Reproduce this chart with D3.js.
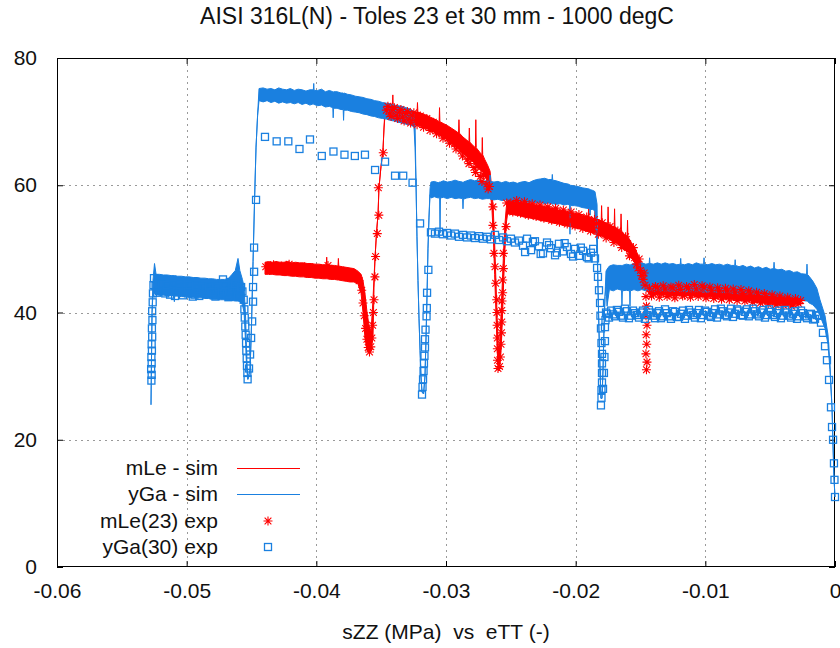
<!DOCTYPE html>
<html><head><meta charset="utf-8">
<script src="https://cdn.jsdelivr.net/npm/d3@7"></script>
<style>
body{margin:0;background:#fff;}
svg text{font-family:"Liberation Sans",Arial,sans-serif;fill:#111;white-space:pre;}
</style></head>
<body><svg id="c" width="840" height="648"></svg>
<script>
const titleText = "AISI 316L(N) - Toles 23 et 30 mm - 1000 degC";
const xLabel = "sZZ (MPa)  vs  eTT (-)";
const xTicks = [-0.06,-0.05,-0.04,-0.03,-0.02,-0.01,0];
const xTickLabels = ["-0.06","-0.05","-0.04","-0.03","-0.02","-0.01","0"];
const yTicks = [0,20,40,60,80];
const yTickLabels = ["0","20","40","60","80"];
const seriesNames = ["mLe - sim","yGa - sim","mLe(23) exp","yGa(30) exp"];
const seriesColors = ["#ff0000","#1a80e0","#ff0000","#1a80e0"];

// simulation curves: [x, low, high] (noise envelope of the simulated signal)
const simRed = [
[-0.04396,46.0,47.9],[-0.04370,46.0,48.0],[-0.04340,46.0,47.9],[-0.04310,45.9,48.0],[-0.04280,45.9,47.9],
[-0.04250,45.8,47.9],[-0.04220,45.8,48.0],[-0.04190,45.7,47.8],[-0.04160,45.7,47.9],[-0.04130,45.6,47.8],
[-0.04100,45.6,47.8],[-0.04070,45.5,47.7],[-0.04040,45.5,47.7],[-0.04010,45.4,47.6],[-0.03980,45.4,47.6],
[-0.03950,45.3,47.5],[-0.03923,45.3,47.5],[-0.03920,45.3,48.7],[-0.03917,45.3,47.5],[-0.03890,45.2,47.4],
[-0.03860,45.2,47.4],[-0.03833,45.1,47.3],[-0.03830,45.1,48.5],[-0.03827,45.1,47.3],[-0.03800,45.0,47.2],
[-0.03770,44.9,47.1],[-0.03740,44.8,47.0],[-0.03710,44.8,46.9],[-0.03679,44.5,46.5],
[-0.03655,43.0,46.0],[-0.03640,40.0,45.0],[-0.03625,36.0,43.0],[-0.03609,34.0,40.0],[-0.03594,33.6,38.0],
[-0.03578,34.0,37.0],[-0.03563,36.0,42.0],[-0.03555,44.0,45.6],[-0.03547,48.7,48.7],[-0.03536,52.5,52.5],
[-0.03524,55.5,55.5],[-0.03517,59.6,59.6],[-0.03501,63.0,63.0],[-0.03486,65.5,65.5],[-0.03478,69.0,69.0],
[-0.03470,71.0,72.5],
[-0.03460,70.6,72.5],[-0.03430,70.4,72.4],[-0.03413,70.4,72.3],[-0.03410,70.4,74.2],[-0.03407,70.4,72.3],
[-0.03380,70.2,72.2],[-0.03350,70.1,72.0],[-0.03320,69.9,71.9],[-0.03290,69.8,71.8],[-0.03260,69.6,71.6],
[-0.03223,69.5,71.5],[-0.03220,69.5,73.0],[-0.03217,69.5,71.5],[-0.03190,69.2,71.3],[-0.03160,69.0,71.1],
[-0.03130,68.7,70.8],[-0.03100,68.4,70.5],[-0.03070,68.1,70.2],[-0.03053,67.9,70.0],[-0.03050,67.9,72.2],
[-0.03047,67.9,70.0],[-0.03020,67.5,69.7],[-0.02990,67.1,69.4],[-0.02960,66.6,69.0],[-0.02930,66.1,68.6],
[-0.02903,65.7,68.2],[-0.02900,65.7,70.3],[-0.02897,65.7,68.2],[-0.02870,65.1,67.6],[-0.02840,64.5,67.1],
[-0.02823,64.2,66.8],[-0.02820,64.2,69.0],[-0.02817,64.2,66.8],[-0.02790,63.6,66.2],[-0.02773,63.3,65.9],
[-0.02770,63.3,70.3],[-0.02767,63.3,65.9],[-0.02740,62.5,65.2],[-0.02723,62.1,64.8],[-0.02720,62.1,67.5],
[-0.02717,62.1,64.8],[-0.02700,61.5,64.0],[-0.02680,60.6,63.2],[-0.02660,59.5,62.2],
[-0.02645,56.0,59.0],[-0.02635,52.0,56.0],[-0.02625,46.0,51.0],[-0.02615,40.0,45.0],[-0.02605,34.0,39.0],
[-0.02595,30.8,34.0],[-0.02585,31.5,35.0],[-0.02575,34.0,40.0],[-0.02565,39.0,45.0],[-0.02555,45.0,50.0],
[-0.02545,50.0,54.0],[-0.02535,54.0,56.5],[-0.02525,55.5,57.5],
[-0.02490,55.4,57.6],[-0.02460,55.3,57.5],[-0.02430,55.2,57.4],[-0.02400,55.0,57.3],[-0.02370,54.9,57.2],
[-0.02340,54.8,57.0],[-0.02310,54.7,56.9],[-0.02280,54.5,56.8],[-0.02250,54.4,56.7],[-0.02220,54.3,56.5],
[-0.02190,54.1,56.4],[-0.02160,54.0,56.3],[-0.02130,53.9,56.1],[-0.02100,53.7,56.0],[-0.02070,53.6,55.9],
[-0.02040,53.5,55.7],[-0.02010,53.3,55.6],[-0.01980,53.2,55.5],[-0.01950,53.0,55.3],[-0.01920,52.8,55.1],
[-0.01903,52.7,55.0],[-0.01900,52.7,56.6],[-0.01897,52.7,55.0],[-0.01870,52.5,54.8],[-0.01853,52.4,54.7],
[-0.01850,52.4,57.0],[-0.01847,52.4,54.7],[-0.01820,52.1,54.5],[-0.01803,52.0,54.4],[-0.01800,52.0,56.8],
[-0.01797,52.0,54.4],[-0.01770,51.7,54.1],[-0.01753,51.6,54.0],[-0.01750,51.6,56.6],[-0.01747,51.6,54.0],
[-0.01720,51.2,53.6],[-0.01703,51.1,53.5],[-0.01700,51.1,56.3],[-0.01697,51.1,53.5],[-0.01670,50.6,53.0],
[-0.01653,50.4,52.8],[-0.01650,50.4,55.5],[-0.01647,50.4,52.8],[-0.01620,49.8,52.2],[-0.01603,49.5,51.9],
[-0.01600,49.5,54.5],[-0.01597,49.5,51.9],[-0.01570,48.7,51.0],[-0.01540,47.6,50.0],[-0.01510,46.1,48.6],
[-0.01480,44.6,47.0],[-0.01455,43.5,45.5],[-0.01430,42.9,44.8],
[-0.01410,42.7,44.6],[-0.01370,42.8,44.7],[-0.01330,42.7,44.6],[-0.01290,42.8,44.8],[-0.01250,42.6,44.6],
[-0.01210,42.7,44.7],[-0.01170,42.6,44.6],[-0.01130,42.7,44.8],[-0.01090,42.6,44.7],[-0.01050,42.6,44.7],
[-0.01010,42.5,44.5],[-0.00970,42.5,44.5],[-0.00930,42.3,44.3],[-0.00890,42.3,44.3],[-0.00850,42.2,44.1],
[-0.00810,42.2,44.1],[-0.00770,42.0,43.9],[-0.00730,42.0,43.9],[-0.00690,41.8,43.7],[-0.00650,41.8,43.7],
[-0.00610,41.6,43.5],[-0.00570,41.6,43.5],[-0.00530,41.4,43.3],[-0.00490,41.4,43.3],[-0.00450,41.2,43.1],
[-0.00410,41.2,43.0],[-0.00370,41.1,42.8],[-0.00330,41.2,42.7],[-0.00290,41.4,42.4],[-0.00260,41.6,42.2]
];

const simBlue = [
[-0.05275,25.5,25.5],[-0.05271,33,33],[-0.05267,40,40],[-0.05260,43,45],[-0.05248,43,47.7],
[-0.05236,42.8,46.0],[-0.05210,42.7,46.0],[-0.05180,42.8,45.9],[-0.05150,42.6,45.9],[-0.05120,42.7,45.8],
[-0.05098,42.6,45.8],[-0.05095,41.7,45.8],[-0.05092,42.6,45.8],[-0.05070,42.6,45.7],[-0.05040,42.5,45.7],
[-0.05010,42.5,45.6],[-0.04980,42.4,45.6],[-0.04950,42.4,45.5],[-0.04920,42.3,45.5],[-0.04890,42.3,45.4],
[-0.04860,42.2,45.4],[-0.04830,42.2,45.3],[-0.04800,42.1,45.3],[-0.04770,42.1,45.2],[-0.04740,42.0,45.2],
[-0.04710,42.0,45.2],[-0.04680,41.9,45.3],[-0.04650,41.9,46.0],[-0.04625,41.8,46.6],[-0.04604,41.8,48.5],
[-0.04590,41.7,46.6],[-0.04570,41.2,45.2],[-0.04557,40.0,44.0],
[-0.04545,35,39],[-0.04537,31,33],[-0.04528,29.5,29.5],[-0.04511,31,31],[-0.04500,38,38],
[-0.04488,48,48],[-0.04476,58,58],[-0.04465,66,66],[-0.04453,71,71],[-0.04442,73.3,75.2],
[-0.04410,73.1,75.3],[-0.04380,73.3,75.1],[-0.04350,73.0,75.2],[-0.04320,73.2,75.0],[-0.04290,72.9,75.3],
[-0.04260,73.1,75.1],[-0.04230,72.9,75.0],[-0.04200,73.0,75.2],[-0.04170,72.8,74.9],[-0.04140,73.0,75.1],
[-0.04110,72.7,75.0],[-0.04080,72.9,74.8],[-0.04050,72.6,75.0],[-0.04023,72.8,75.0],[-0.04020,72.7,76.0],
[-0.04017,72.7,74.9],[-0.03990,72.5,74.9],[-0.03960,72.6,75.1],[-0.03930,72.3,74.7],[-0.03900,72.4,74.9],
[-0.03873,72.2,74.7],[-0.03870,70.6,74.6],[-0.03867,72.1,74.7],[-0.03840,72.1,74.7],[-0.03810,71.9,74.5],
[-0.03793,71.9,74.5],[-0.03790,70.2,74.4],[-0.03787,71.8,74.5],[-0.03760,71.8,74.3],[-0.03730,71.6,74.2],
[-0.03700,71.5,74.0],[-0.03670,71.4,73.9],[-0.03640,71.2,73.8],[-0.03610,71.1,73.6],[-0.03580,70.9,73.5],
[-0.03550,70.8,73.3],[-0.03520,70.6,73.2],[-0.03490,70.5,73.0],[-0.03460,70.4,72.9],[-0.03430,70.2,72.8],
[-0.03400,70.1,72.6],[-0.03370,69.9,72.5],[-0.03340,69.8,72.4],[-0.03310,69.6,72.2],[-0.03280,69.5,72.0],
[-0.03247,69.2,71.6],
[-0.03239,66,70],[-0.03231,60,60],[-0.03224,52,52],[-0.03216,45,45],[-0.03208,39,39],
[-0.03200,34,34],[-0.03193,30,30],[-0.03185,27.5,27.5],[-0.03173,27.2,27.2],[-0.03162,30,30],
[-0.03154,36,36],[-0.03146,43,43],[-0.03139,50,50],[-0.03131,55,55],[-0.03123,58.5,59.5],
[-0.03116,58.0,60.5],[-0.03090,58.2,60.6],[-0.03060,58.0,60.4],[-0.03049,58.1,60.5],[-0.03046,52.5,60.5],
[-0.03043,58.0,60.5],[-0.03020,58.1,60.7],[-0.02990,57.9,60.5],[-0.02960,58.1,60.6],[-0.02930,57.9,60.8],
[-0.02900,58.0,60.6],[-0.02872,57.9,60.5],[-0.02869,56.3,60.4],[-0.02866,57.8,60.5],[-0.02840,58.0,60.7],
[-0.02810,58.1,60.9],[-0.02780,57.9,60.7],[-0.02750,58.0,60.8],[-0.02720,57.8,60.6],[-0.02690,57.9,60.7],
[-0.02663,57.9,60.6],[-0.02660,57.8,61.6],[-0.02657,57.8,60.6],[-0.02630,57.7,60.5],[-0.02600,57.8,60.6],
[-0.02570,57.6,60.4],[-0.02540,57.7,60.6],[-0.02510,57.5,60.4],[-0.02480,57.6,60.5],[-0.02450,57.4,60.3],
[-0.02420,57.5,60.5],[-0.02390,57.4,60.6],[-0.02360,57.3,60.4],[-0.02330,57.4,60.7],[-0.02300,57.2,60.9],
[-0.02270,57.3,61.0],[-0.02240,57.1,61.1],[-0.02210,57.2,60.9],[-0.02183,57.1,60.9],[-0.02180,57.0,61.7],
[-0.02177,57.1,60.8],[-0.02150,57.0,60.7],[-0.02120,57.1,60.5],[-0.02090,56.9,60.3],[-0.02060,57.0,60.2],
[-0.02047,56.9,60.1],[-0.02044,52.3,60.0],[-0.02041,56.8,60.0],[-0.02010,56.8,59.9],[-0.01980,56.7,59.8],
[-0.01950,56.5,59.6],[-0.01920,56.4,59.5],[-0.01892,56.3,59.4],[-0.01889,55.3,59.3],[-0.01886,56.2,59.3],
[-0.01870,56.2,59.2],[-0.01851,56.0,59.0],
[-0.01835,50,57],[-0.01828,44,44],[-0.01820,37,37],[-0.01812,31,31],[-0.01805,26.5,26.5],
[-0.01797,26.5,26.5],[-0.01789,31,31],[-0.01782,37,37],[-0.01774,42.5,42.5],[-0.01766,44,46.5],
[-0.01758,41.0,46.8],[-0.01740,43.6,47.3],[-0.01710,43.4,47.5],[-0.01680,43.7,47.4],[-0.01646,43.5,47.4],
[-0.01643,41.2,47.3],[-0.01640,43.4,47.4],[-0.01610,43.5,47.6],[-0.01584,43.4,47.5],[-0.01581,41.0,47.4],
[-0.01578,43.4,47.5],[-0.01550,43.6,47.7],[-0.01520,43.4,47.6],[-0.01490,43.6,47.8],[-0.01460,43.4,47.6],
[-0.01433,43.5,47.7],[-0.01430,43.5,48.6],[-0.01427,43.5,47.7],[-0.01400,43.3,47.6],[-0.01370,43.5,47.8],
[-0.01340,43.3,47.6],[-0.01310,43.4,47.8],[-0.01280,43.3,47.6],[-0.01250,43.4,47.7],[-0.01220,43.2,47.5],
[-0.01193,43.3,47.6],[-0.01190,43.3,48.5],[-0.01187,43.3,47.6],[-0.01160,43.2,47.5],[-0.01130,43.3,47.7],
[-0.01100,43.2,47.5],[-0.01070,43.3,47.8],[-0.01040,43.2,47.6],[-0.01013,43.2,47.6],[-0.01010,43.2,48.6],
[-0.01007,43.2,47.6],[-0.00980,43.1,47.5],[-0.00950,43.3,47.7],[-0.00920,43.1,47.5],[-0.00890,43.2,47.6],
[-0.00860,43.0,47.4],[-0.00830,43.2,47.6],[-0.00800,43.0,47.4],[-0.00773,43.1,47.4],[-0.00770,43.1,48.3],
[-0.00767,43.1,47.4],[-0.00740,42.9,47.2],[-0.00710,43.1,47.4],[-0.00680,42.9,47.1],[-0.00650,43.0,47.3],
[-0.00620,42.8,47.0],[-0.00590,42.9,47.2],[-0.00560,42.7,46.9],[-0.00530,42.8,47.1],[-0.00500,42.6,46.8],
[-0.00473,42.7,46.9],[-0.00470,42.7,47.9],[-0.00467,42.7,46.9],[-0.00440,42.5,46.7],[-0.00410,42.6,46.8],
[-0.00380,42.4,46.5],[-0.00350,42.5,46.6],[-0.00320,42.2,46.3],[-0.00290,42.2,46.4],[-0.00260,41.9,46.1],
[-0.00219,41.8,46.0],[-0.00216,41.8,47.6],[-0.00213,41.8,46.0],[-0.00200,41.5,45.7],[-0.00170,41.2,44.9],
[-0.00140,40.5,43.8],[-0.00116,39.5,42.0],[-0.00077,37.5,39.5],[-0.00054,35,36.5],[-0.00039,31,32],
[-0.00023,25,25],[-0.00015,19,19],[-0.00008,14,14],[0,11,11]
];

// experimental points: [x, y]
const expRed = [
[-0.04390,47.2],[-0.04360,46.6],[-0.04330,47.5],[-0.04300,46.9],[-0.04270,47.3],[-0.04240,46.5],
[-0.04210,47.6],[-0.04180,46.8],[-0.04150,47.1],[-0.04120,46.4],[-0.04090,47.2],[-0.04060,46.6],
[-0.04030,47.0],[-0.04000,46.3],[-0.03970,46.9],[-0.03940,46.2],[-0.03910,47.4],[-0.03880,46.1],
[-0.03850,46.6],[-0.03820,46.0],[-0.03790,46.5],[-0.03760,45.8],[-0.03730,46.2],[-0.03700,45.6],
[-0.03670,45.0],[-0.03650,43.5],[-0.03640,41.5],[-0.03630,39.5],[-0.03620,37.5],[-0.03610,35.8],
[-0.03600,34.5],[-0.03590,33.8],[-0.03580,34.6],[-0.03572,36.0],[-0.03566,38.0],[-0.03560,40.0],
[-0.03555,42.0],[-0.03548,45.6],[-0.03543,48.8],[-0.03530,52.4],[-0.03518,55.3],[-0.03522,59.6],[-0.03484,65.1],
[-0.03460,71.8],[-0.03435,71.2],[-0.03410,71.9],[-0.03385,71.0],[-0.03360,71.5],[-0.03335,70.7],
[-0.03310,71.3],[-0.03285,70.4],[-0.03260,71.0],[-0.03235,70.2],[-0.03210,70.8],[-0.03185,69.8],
[-0.03160,70.3],[-0.03135,69.3],[-0.03110,69.9],[-0.03085,68.9],[-0.03060,69.2],[-0.03035,68.2],
[-0.03010,68.6],[-0.02985,67.4],[-0.02960,67.6],[-0.02935,66.5],[-0.02910,66.6],[-0.02885,65.4],
[-0.02860,65.5],[-0.02835,64.1],[-0.02810,64.2],[-0.02785,62.8],[-0.02760,62.9],[-0.02735,61.4],
[-0.02710,61.6],[-0.02685,60.2],[-0.02665,59.8],
[-0.03448,72.4],[-0.03423,70.8],[-0.03398,72.2],[-0.03373,70.5],[-0.03348,71.9],[-0.03323,70.1],
[-0.03298,71.6],[-0.03273,69.8],[-0.03248,71.4],[-0.03223,69.5],[-0.03198,70.9],[-0.03173,69.1],
[-0.03148,70.5],[-0.03123,68.6],[-0.03098,69.9],[-0.03073,68.1],[-0.03048,69.2],[-0.03023,67.4],
[-0.02998,68.5],[-0.02973,66.6],[-0.02948,67.7],[-0.02923,65.7],[-0.02898,66.8],[-0.02873,64.6],
[-0.02848,65.8],[-0.02823,63.4],[-0.02798,64.6],[-0.02773,62.0],[-0.02748,63.3],[-0.02723,60.6],
[-0.02698,61.8],[-0.02675,59.4],
[-0.02638,56.6],[-0.02638,53.7],[-0.02630,49.3],[-0.02622,47.2],[-0.02617,44.6],[-0.02609,42.0],
[-0.02607,40.0],[-0.02606,38.0],[-0.02604,36.0],[-0.02604,34.3],[-0.02603,32.5],[-0.02599,31.2],
[-0.02587,31.5],[-0.02580,33.0],[-0.02576,35.0],[-0.02572,36.8],[-0.02570,38.5],[-0.02570,40.3],
[-0.02568,41.8],[-0.02563,43.1],[-0.02563,45.1],[-0.02558,46.9],[-0.02558,49.3],[-0.02537,53.5],[-0.02532,57.2],
[-0.02500,57.2],[-0.02470,56.2],[-0.02440,57.0],[-0.02410,56.0],[-0.02380,56.8],[-0.02350,55.8],
[-0.02320,56.6],[-0.02290,55.5],[-0.02260,56.3],[-0.02230,55.2],[-0.02200,56.0],[-0.02170,54.9],
[-0.02140,55.8],[-0.02110,54.7],[-0.02080,55.5],[-0.02050,54.4],[-0.02020,55.2],[-0.01990,54.1],
[-0.01960,54.8],[-0.01930,53.7],[-0.01900,54.4],[-0.01870,53.3],[-0.01840,54.0],[-0.01810,52.8],
[-0.01780,53.5],[-0.01750,52.3],[-0.01720,52.9],[-0.01690,51.6],[-0.01660,52.1],[-0.01630,50.6],
[-0.01600,50.8],[-0.01570,49.2],[-0.01545,48.6],[-0.01520,47.0],[-0.01500,46.6],[-0.01480,45.2],[-0.01465,44.3],
[-0.02485,55.8],[-0.02455,57.6],[-0.02425,55.6],[-0.02395,57.4],[-0.02365,55.3],[-0.02335,57.1],
[-0.02305,55.1],[-0.02275,56.9],[-0.02245,54.8],[-0.02215,56.6],[-0.02185,54.5],[-0.02155,56.4],
[-0.02125,54.2],[-0.02095,56.1],[-0.02065,53.9],[-0.02035,55.8],[-0.02005,53.6],[-0.01975,55.4],
[-0.01945,53.2],[-0.01915,55.0],[-0.01885,52.8],[-0.01855,54.6],[-0.01825,52.3],[-0.01795,54.1],
[-0.01765,51.7],[-0.01735,53.5],[-0.01705,51.0],[-0.01675,52.8],[-0.01645,50.2],[-0.01615,51.9],
[-0.01585,48.9],[-0.01555,50.2],[-0.01530,47.6],[-0.01510,48.4],[-0.01490,45.8],[-0.01472,46.2],
[-0.01458,42.5],[-0.01454,41.0],[-0.01458,39.5],[-0.01450,38.0],[-0.01456,36.5],[-0.01452,35.0],
[-0.01458,33.5],[-0.01450,32.2],[-0.01454,31.0],
[-0.01430,43.8],[-0.01400,42.9],[-0.01370,43.9],[-0.01340,43.0],[-0.01310,43.7],[-0.01280,42.8],
[-0.01250,43.9],[-0.01220,43.1],[-0.01190,43.6],[-0.01160,42.7],[-0.01130,43.8],[-0.01100,42.9],
[-0.01070,43.7],[-0.01040,43.0],[-0.01010,43.9],[-0.00980,42.8],[-0.00950,43.5],[-0.00920,42.6],
[-0.00890,43.4],[-0.00860,42.5],[-0.00830,43.4],[-0.00800,42.4],[-0.00770,43.2],[-0.00740,42.3],
[-0.00710,43.0],[-0.00680,42.1],[-0.00650,42.9],[-0.00620,42.0],[-0.00590,42.7],[-0.00560,41.8],
[-0.00530,42.5],[-0.00500,41.7],[-0.00470,42.3],[-0.00440,41.5],[-0.00410,42.1],[-0.00380,41.4],
[-0.00350,41.9],[-0.00320,41.3],[-0.00290,41.7],[-0.00265,41.9],
[-0.01415,42.6],[-0.01385,44.1],[-0.01355,42.4],[-0.01325,44.2],[-0.01295,42.5],[-0.01265,44.0],
[-0.01235,42.3],[-0.01205,44.3],[-0.01175,42.6],[-0.01145,44.1],[-0.01115,42.4],[-0.01085,44.4],
[-0.01055,42.5],[-0.01025,44.2],[-0.00995,42.3],[-0.00965,44.0],[-0.00935,42.2],[-0.00905,43.9],
[-0.00875,42.1],[-0.00845,43.8],[-0.00815,42.0],[-0.00785,43.7],[-0.00755,41.9],[-0.00725,43.6],
[-0.00695,41.8],[-0.00665,43.4],[-0.00635,41.6],[-0.00605,43.2],[-0.00575,41.5],[-0.00545,43.0],
[-0.00515,41.3],[-0.00485,42.8],[-0.00455,41.2],[-0.00425,42.6],[-0.00395,41.1],[-0.00365,42.4],
[-0.00335,41.0],[-0.00305,42.2],[-0.00280,41.4]
];

const expBlue = [
[-0.05272,29.3],[-0.05270,30.2],[-0.05274,31.1],[-0.05270,32.0],[-0.05272,33.0],[-0.05268,34.0],
[-0.05270,35.0],[-0.05266,36.2],[-0.05268,37.5],[-0.05264,38.8],[-0.05266,40.2],[-0.05262,41.6],
[-0.05260,43.0],[-0.05256,44.3],[-0.05252,45.4],
[-0.05240,44.2],[-0.05215,43.4],[-0.05190,44.4],[-0.05165,43.0],[-0.05140,44.0],[-0.05115,43.6],
[-0.05090,42.6],[-0.05065,43.9],[-0.05040,43.2],[-0.05015,44.1],[-0.04990,43.0],[-0.04965,43.7],
[-0.04940,42.8],[-0.04915,43.8],[-0.04890,43.1],[-0.04865,43.9],[-0.04840,42.9],[-0.04815,43.6],
[-0.04790,42.7],[-0.04765,43.5],[-0.04740,42.8],[-0.04720,45.2],[-0.04715,43.7],[-0.04690,42.9],
[-0.04665,43.4],[-0.04660,44.8],[-0.04640,42.6],[-0.04615,43.5],[-0.04590,42.8],[-0.04570,43.3],
[-0.05228,43.1],[-0.05203,44.6],[-0.05178,43.3],[-0.05153,44.3],[-0.05128,42.8],[-0.05103,44.5],
[-0.05078,43.2],[-0.05053,44.4],[-0.05028,42.7],[-0.05003,43.5],[-0.04978,44.3],[-0.04953,42.5],
[-0.04928,44.2],[-0.04903,42.6],[-0.04878,44.0],[-0.04853,43.3],[-0.04828,44.1],[-0.04803,43.2],
[-0.04778,42.5],[-0.04753,44.0],[-0.04728,43.1],[-0.04703,44.3],[-0.04678,42.4],[-0.04653,43.9],
[-0.04628,44.5],[-0.04603,42.5],[-0.04580,44.0],
[-0.04560,42.0],[-0.04555,40.5],[-0.04552,39.2],[-0.04548,37.8],[-0.04545,36.5],[-0.04542,35.2],
[-0.04540,34.0],[-0.04537,32.8],[-0.04535,31.6],[-0.04532,30.5],[-0.04530,29.5],
[-0.04519,31.2],[-0.04511,33.4],[-0.04503,36.0],[-0.04495,38.6],[-0.04488,41.7],[-0.04488,44.0],
[-0.04480,46.4],[-0.04480,50.2],[-0.04465,57.7],
[-0.04396,67.6],[-0.04306,66.9],[-0.04216,66.9],[-0.04130,65.7],[-0.04049,67.2],[-0.03958,64.6],
[-0.03868,65.3],[-0.03783,64.8],[-0.03703,64.6],[-0.03625,64.8],[-0.03547,62.4],[-0.03470,63.7],
[-0.03393,61.5],[-0.03330,61.5],[-0.03258,60.4],[-0.03200,54.0],
[-0.03185,27.1],[-0.03181,28.3],[-0.03177,29.5],[-0.03173,30.8],[-0.03170,32.0],[-0.03166,33.2],
[-0.03162,34.5],[-0.03162,35.8],[-0.03158,37.3],[-0.03150,39.4],[-0.03148,40.7],[-0.03146,43.1],[-0.03136,46.7],
[-0.03116,52.6],[-0.03085,52.4],[-0.03054,52.7],[-0.03023,52.3],[-0.02992,52.5],[-0.02961,52.1],
[-0.02931,52.4],[-0.02900,51.9],[-0.02869,52.2],[-0.02838,51.8],[-0.02807,52.1],[-0.02776,51.7],
[-0.02745,52.0],[-0.02715,51.6],[-0.02684,51.9],[-0.02653,51.5],[-0.02622,52.2],[-0.02591,51.4],
[-0.02560,51.8],[-0.02530,51.2],[-0.02499,51.6],[-0.02468,51.0],[-0.02437,51.3],[-0.02406,50.5],
[-0.02375,51.6],[-0.02344,49.8],[-0.02314,51.2],[-0.02283,50.4],[-0.02252,49.3],[-0.02221,51.0],
[-0.02190,50.1],[-0.02159,49.0],[-0.02129,50.8],[-0.02098,49.6],[-0.02067,50.3],[-0.02036,49.2],
[-0.02005,50.0],[-0.01974,48.9],[-0.01943,49.7],[-0.01913,48.7],[-0.01882,49.4],[-0.01851,48.5],
[-0.02390,49.5],[-0.02330,51.1],[-0.02270,49.2],[-0.02205,50.6],[-0.02145,49.4],[-0.02085,50.9],
[-0.02020,48.8],[-0.01960,50.2],[-0.01900,48.5],[-0.01865,50.0],
[-0.01835,47.0],[-0.01828,45.6],[-0.01820,43.5],[-0.01812,41.5],[-0.01809,39.5],[-0.01805,37.5],
[-0.01801,35.2],[-0.01797,33.5],[-0.01797,32.0],[-0.01797,30.5],[-0.01797,29.0],[-0.01801,27.8],
[-0.01801,26.6],[-0.01805,25.4],
[-0.01789,28.0],[-0.01782,30.5],[-0.01778,33.0],[-0.01774,35.5],[-0.01774,37.7],[-0.01770,38.8],[-0.01766,40.0],
[-0.01758,39.8],[-0.01727,40.3],[-0.01697,39.4],[-0.01666,40.1],[-0.01635,39.2],[-0.01604,40.2],
[-0.01573,39.5],[-0.01542,39.9],[-0.01512,39.2],[-0.01481,40.3],[-0.01450,39.6],[-0.01419,40.0],
[-0.01388,39.1],[-0.01357,40.2],[-0.01326,39.4],[-0.01296,39.9],[-0.01265,39.0],[-0.01234,40.1],
[-0.01203,39.3],[-0.01172,40.3],[-0.01141,39.5],[-0.01111,40.0],[-0.01080,39.2],[-0.01049,40.4],
[-0.01018,39.6],[-0.00987,40.1],[-0.00956,39.3],[-0.00925,40.5],[-0.00895,39.7],[-0.00864,40.2],
[-0.00833,39.4],[-0.00802,40.6],[-0.00771,39.8],[-0.00740,40.3],[-0.00710,39.5],[-0.00679,40.5],
[-0.00648,39.7],[-0.00617,40.2],[-0.00586,39.4],[-0.00555,40.4],[-0.00524,39.6],[-0.00494,40.1],
[-0.00463,39.3],[-0.00432,40.3],[-0.00401,39.5],[-0.00370,40.0],[-0.00339,39.2],[-0.00308,40.2],
[-0.00278,39.4],[-0.00247,39.9],[-0.00216,39.1],[-0.00185,39.8],[-0.00154,39.0],[-0.00123,39.5],
[-0.01743,39.2],[-0.01712,39.7],[-0.01682,40.4],[-0.01651,39.5],[-0.01620,40.6],[-0.01589,39.1],
[-0.01558,40.3],[-0.01527,39.6],[-0.01497,40.0],[-0.01466,39.0],[-0.01435,40.4],[-0.01404,39.5],
[-0.01373,39.9],[-0.01342,39.1],[-0.01311,40.5],[-0.01281,39.4],[-0.01250,40.2],[-0.01219,39.3],
[-0.01188,39.8],[-0.01157,39.0],[-0.01126,40.4],[-0.01096,39.6],[-0.01065,39.9],[-0.01034,39.1],
[-0.01003,40.3],[-0.00972,39.5],[-0.00941,39.9],[-0.00910,39.2],[-0.00880,40.6],[-0.00849,39.6],
[-0.00818,40.0],[-0.00787,39.3],[-0.00756,40.5],[-0.00725,39.6],[-0.00695,40.1],[-0.00664,39.4],
[-0.00633,40.6],[-0.00602,39.7],[-0.00571,40.0],[-0.00540,39.2],[-0.00509,40.5],[-0.00479,39.6],
[-0.00448,39.9],[-0.00417,39.1],[-0.00386,40.4],[-0.00355,39.5],[-0.00324,39.8],[-0.00293,39.0],
[-0.00262,40.3],[-0.00231,39.4],[-0.00200,39.7],[-0.00169,38.9],[-0.00138,39.6],[-0.00108,38.4],
[-0.00093,36.8],[-0.00077,34.7],[-0.00062,32.5],[-0.00046,29.4],[-0.00031,25.1],[-0.00023,22.0],
[-0.00015,20.0],[-0.00008,16.3],[-0.00004,13.7],[0,11.0]
];

const FS = 21, FS_TITLE = 23;
const svg = d3.select("#c");
const L = 57, R = 835, T = 58, B = 567;
const x = d3.scaleLinear().domain([-0.06, 0]).range([L, R]);
const y = d3.scaleLinear().domain([0, 80]).range([B, T]);

// grid
const grid = svg.append("g").attr("stroke", "#9a9a9a").attr("stroke-width", 1).attr("stroke-dasharray", "2,4");
xTicks.slice(1, -1).forEach(v => grid.append("line").attr("x1", Math.round(x(v)) + 0.5).attr("x2", Math.round(x(v)) + 0.5).attr("y1", T).attr("y2", B));
yTicks.slice(1, -1).forEach(v => grid.append("line").attr("y1", Math.round(y(v)) + 0.5).attr("y2", Math.round(y(v)) + 0.5).attr("x1", L).attr("x2", R));

// axes (inward ticks, mirrored)
const gx = svg.append("g").attr("transform", `translate(0,${B})`)
  .call(d3.axisBottom(x).tickValues(xTicks).tickSize(-6).tickFormat((d, i) => xTickLabels[i]).tickPadding(16));
const gxt = svg.append("g").attr("transform", `translate(0,${T})`)
  .call(d3.axisTop(x).tickValues(xTicks).tickSize(-6).tickFormat(""));
const gy = svg.append("g").attr("transform", `translate(${L},0)`)
  .call(d3.axisLeft(y).tickValues(yTicks).tickSize(-6).tickFormat((d, i) => yTickLabels[i]).tickPadding(20));
const gyr = svg.append("g").attr("transform", `translate(${R},0)`)
  .call(d3.axisRight(y).tickValues(yTicks).tickSize(-6).tickFormat(""));
[gx, gxt, gy, gyr].forEach(g => {
  g.select(".domain").remove();
  g.selectAll(".tick line").attr("stroke", "#000");
  g.selectAll("text").attr("font-size", FS).attr("fill", "#111").style("font-family", '"Liberation Sans", Arial, sans-serif');
});
svg.append("rect").attr("x", L + 0.5).attr("y", T + 0.5).attr("width", R - L - 1).attr("height", B - T - 1)
  .attr("fill", "none").attr("stroke", "#000").attr("stroke-width", 1);

const plot = svg.append("g");
const area = d3.area().x(d => x(d[0])).y0(d => y(d[1])).y1(d => y(d[2]));
plot.append("path").datum(simRed).attr("d", area).attr("fill", seriesColors[0]).attr("stroke", seriesColors[0]).attr("stroke-width", 1).attr("stroke-linejoin", "round");
plot.append("path").datum(simBlue).attr("d", area).attr("fill", seriesColors[1]).attr("stroke", seriesColors[1]).attr("stroke-width", 1).attr("stroke-linejoin", "round");

const star = (g, cx, cy, s, col) => {
  g.append("path").attr("d", `M${cx - s},${cy}H${cx + s}M${cx},${cy - s}V${cy + s}M${cx - s * 0.75},${cy - s * 0.75}L${cx + s * 0.75},${cy + s * 0.75}M${cx - s * 0.75},${cy + s * 0.75}L${cx + s * 0.75},${cy - s * 0.75}`)
    .attr("stroke", col).attr("stroke-width", 1.1).attr("fill", "none");
};
const gs = plot.append("g");
expRed.forEach(d => star(gs, x(d[0]), y(d[1]), 4.5, seriesColors[2]));
plot.append("g").selectAll("rect").data(expBlue).join("rect")
  .attr("x", d => x(d[0]) - 3.5).attr("y", d => y(d[1]) - 3.5).attr("width", 7).attr("height", 7)
  .attr("fill", "none").attr("stroke", seriesColors[3]).attr("stroke-width", 1.3);

// legend
const lg = svg.append("g");
const rows = [468, 494, 521, 547];
seriesNames.forEach((n, i) => {
  lg.append("text").attr("x", 218).attr("y", rows[i]).attr("dy", "0.35em").attr("text-anchor", "end").attr("font-size", FS).text(n);
  if (i < 2) lg.append("line").attr("x1", 237).attr("x2", 300).attr("y1", rows[i] + 0.5).attr("y2", rows[i] + 0.5).attr("stroke", seriesColors[i]).attr("stroke-width", 1);
  else if (i === 2) star(lg, 268, rows[i], 4.5, seriesColors[i]);
  else lg.append("rect").attr("x", 264.5).attr("y", rows[i] - 3.5).attr("width", 7).attr("height", 7).attr("fill", "none").attr("stroke", seriesColors[i]).attr("stroke-width", 1.3);
});

svg.append("text").attr("x", 437).attr("y", 24).attr("text-anchor", "middle").attr("font-size", FS_TITLE).text(titleText);
svg.append("text").attr("x", 446).attr("y", 639).attr("text-anchor", "middle").attr("font-size", FS).attr("xml:space", "preserve").text(xLabel);
</script></body></html>
